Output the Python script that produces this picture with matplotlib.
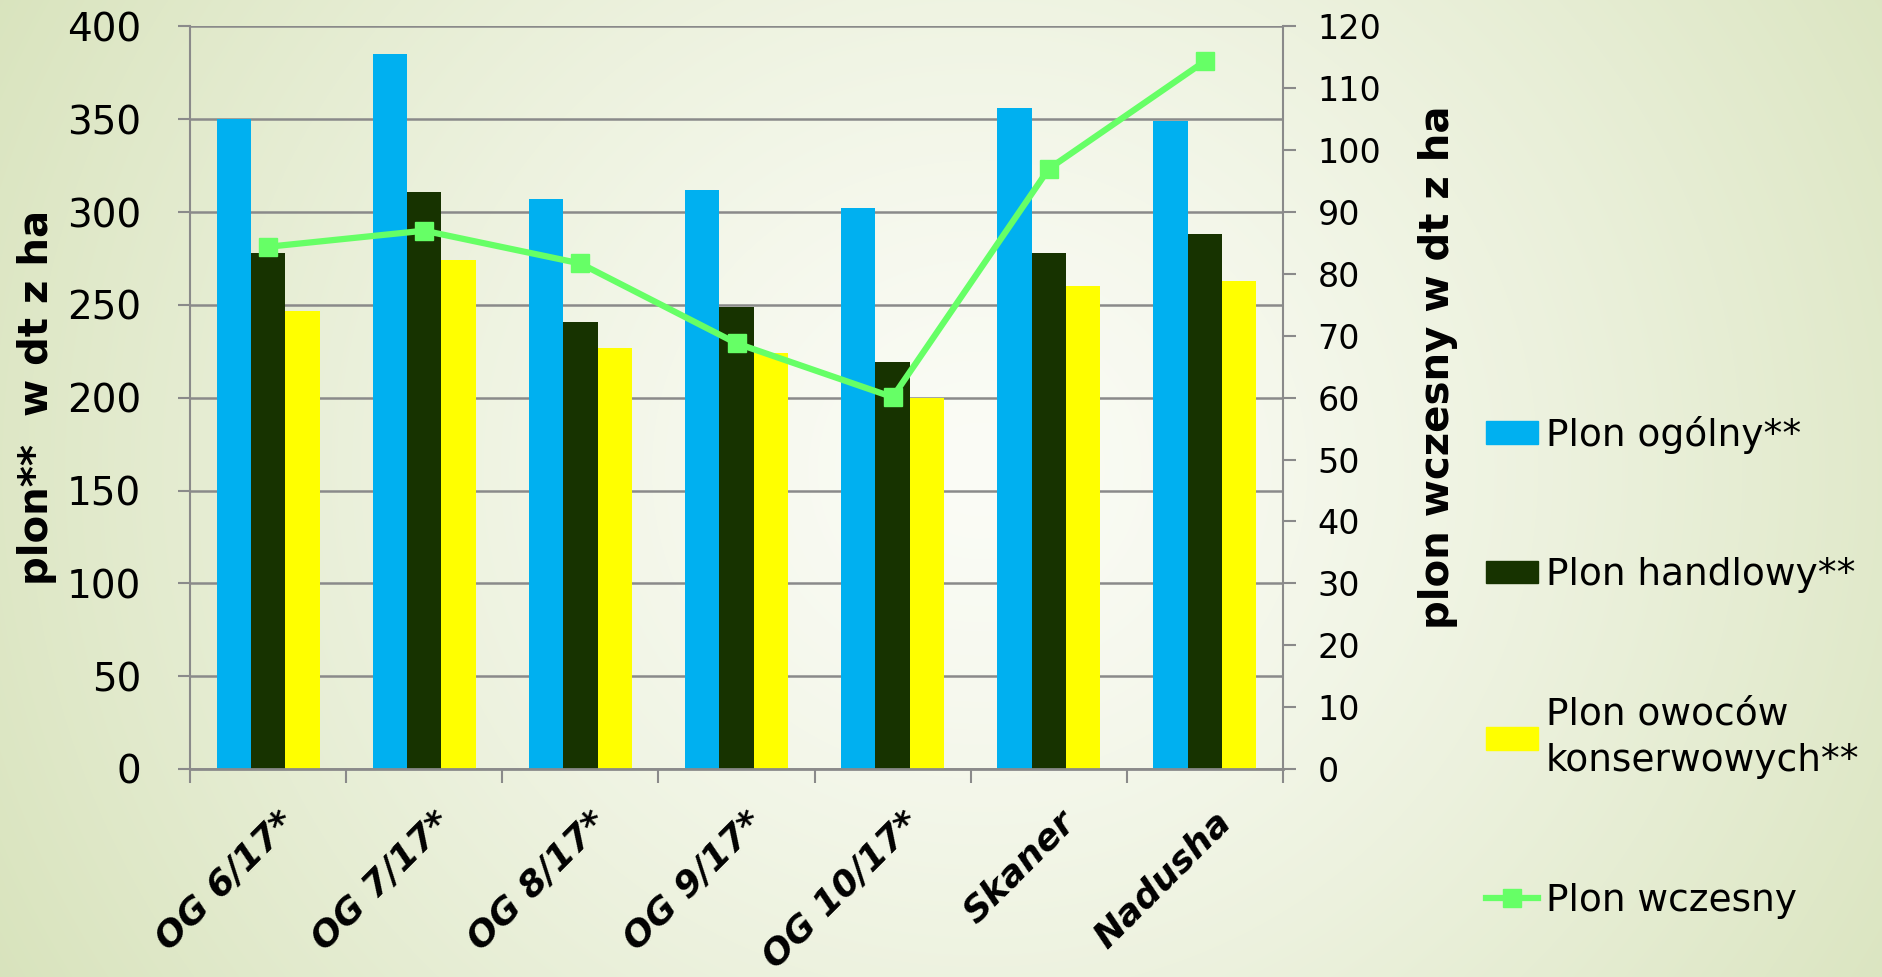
import numpy as np
import matplotlib.pyplot as plt
from matplotlib.lines import Line2D
from matplotlib.patches import Patch
import matplotlib.transforms as mtransforms

categories = ['OG 6/17*', 'OG 7/17*', 'OG 8/17*', 'OG 9/17*', 'OG 10/17*', 'Skaner', 'Nadusha']
plon_ogolny = [350, 385, 307, 312, 302, 356, 349]
plon_handlowy = [278, 311, 241, 249, 219, 278, 288]
plon_konserwowy = [247, 274, 227, 224, 200, 260, 263]
plon_wczesny = [84.4, 87.0, 81.7, 68.8, 60.1, 97.0, 114.4]

left_ticks = list(range(0, 401, 50))
right_ticks = list(range(0, 121, 10))

c_blue = '#00B0F0'
c_dark = '#173300'
c_yellow = '#FFFF00'
c_green = '#66FF66'
c_grid = '#8A8A8A'

W, H = 1883, 977
fig = plt.figure(figsize=(W / 100, H / 100), dpi=100)

# background radial gradient
bg = fig.add_axes([0, 0, 1, 1], zorder=-10)
yy, xx = np.mgrid[0:H, 0:W]
r = np.hypot((xx - 0.52 * W) / W, (yy - 0.48 * H) / H * 0.55)
r = np.clip(r / 0.6, 0, 1) ** 1.3
c0 = np.array([251, 252, 246]) / 255
c1 = np.array([216, 227, 188]) / 255
img = c0[None, None, :] + (c1 - c0)[None, None, :] * r[..., None]
bg.imshow(img, aspect='auto', extent=[0, 1, 0, 1])
bg.axis('off')

left, right, top, bottom = 190, 1283, 26.5, 769
ax = fig.add_axes([left / W, 1 - bottom / H, (right - left) / W, (bottom - top) / H])
ax.set_facecolor('none')
ax.set_axisbelow(True)

x = np.arange(len(categories))
w = 0.22
ax.bar(x - w, plon_ogolny, w, color=c_blue, label='Plon ogólny**')
ax.bar(x, plon_handlowy, w, color=c_dark, label='Plon handlowy**')
ax.bar(x + w, plon_konserwowy, w, color=c_yellow, label='Plon owoców\nkonserwowych**')

ax.set_xlim(-0.5, len(categories) - 0.5)
ax.set_ylim(0, 400)
ax.set_yticks(left_ticks)
ax.yaxis.grid(True, color=c_grid, linewidth=1.8)
ax.tick_params(axis='y', direction='out', length=9, width=1.5, color=c_grid,
               labelsize=28, pad=26)

ax.set_xticks(x)
ax.set_xticks(np.arange(-0.5, len(categories), 1), minor=True)
ax.set_xticklabels(categories, rotation=45, ha='right', rotation_mode='anchor',
                   fontsize=26, fontweight='bold', fontstyle='italic')
ax.tick_params(axis='x', which='major', length=0, pad=26)
ax.tick_params(axis='x', which='minor', length=10, width=1.5, color=c_grid)
shift = mtransforms.ScaledTranslation(9 / 100, 0, fig.dpi_scale_trans)
for lab in ax.get_xticklabels():
    lab.set_transform(lab.get_transform() + shift)

for s in ['top', 'right']:
    ax.spines[s].set_visible(False)
ax.spines['left'].set_color(c_grid)
ax.spines['left'].set_linewidth(1.5)
ax.spines['bottom'].set_color(c_grid)
ax.spines['bottom'].set_linewidth(2)

ax.set_ylabel('plon**  w dt z ha', fontsize=29, fontweight='bold')
ax.yaxis.set_label_coords(-0.122, 0.5)

ax2 = ax.twinx()
ax2.plot(x, plon_wczesny, color=c_green, linewidth=4.5, marker='s', markersize=13,
         label='Plon wczesny')
ax2.set_ylim(0, 120)
ax2.set_yticks(right_ticks)
ax2.tick_params(axis='y', direction='out', length=9, width=1.5, color=c_grid,
                labelsize=24, pad=16)
for s in ['top', 'left', 'bottom']:
    ax2.spines[s].set_visible(False)
ax2.spines['right'].set_color(c_grid)
ax2.spines['right'].set_linewidth(1.5)
ax2.set_ylabel('plon wczesny w dt z ha', fontsize=29, fontweight='bold')
ax2.yaxis.set_label_coords(1.1235, 0.541)

handles = [Patch(color=c_blue), Patch(color=c_dark), Patch(color=c_yellow),
           Line2D([], [], color=c_green, linewidth=4.5, marker='s', markersize=13)]
labels = ['Plon ogólny**', 'Plon handlowy**', 'Plon owoców\nkonserwowych**', 'Plon wczesny']
leg = fig.legend(handles, labels, loc='upper left', bbox_to_anchor=(1486 / W, 1 - 416 / H),
                 frameon=False, fontsize=27, labelspacing=2.75, handlelength=1.4,
                 handleheight=0.55, handletextpad=0.2, borderaxespad=0, borderpad=0)
leg.get_texts()[2].set_linespacing(1.4)

fig.savefig('out.png', dpi=100)
